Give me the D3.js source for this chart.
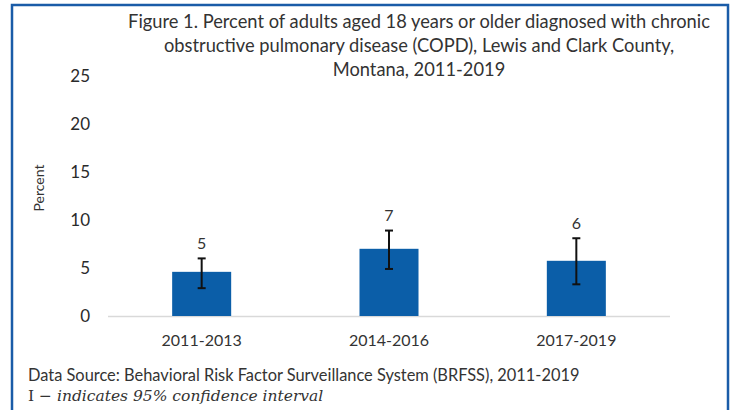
<!DOCTYPE html>
<html><head><meta charset="utf-8">
<script src="https://cdn.jsdelivr.net/npm/d3@7"></script>
<style>body{margin:0;background:#fff}svg{display:block}</style>
</head><body>
<svg id="c" width="732" height="410"></svg>
<script>
const titleLines = ["Figure 1. Percent of adults aged 18 years or older diagnosed with chronic",
  "obstructive pulmonary disease (COPD), Lewis and Clark County,",
  "Montana, 2011-2019"];
const categories = ["2011-2013", "2014-2016", "2017-2019"];
const values = [4.6, 7.0, 5.75];
const lower = [2.9, 4.9, 3.3];
const upper = [6.0, 8.9, 8.1];
const valueLabels = ["5", "7", "6"];
const yTicks = [0, 5, 10, 15, 20, 25];
const yLabel = "Percent";
const sourceText = "Data Source: Behavioral Risk Factor Surveillance System (BRFSS), 2011-2019";

const svg = d3.select("#c");
const font = "Lato, 'Open Sans', sans-serif";
const txt = "#333";

// frame
svg.append("rect").attr("x",12).attr("y",5).attr("width",716).attr("height",420)
  .attr("fill","#fff").attr("stroke","#1a5ca8").attr("stroke-width",2.5);

const x = d3.scaleBand().domain(categories).range([108, 670]);
const y = d3.scaleLinear().domain([0, 25]).range([316, 76]);
const bw = x.bandwidth() * 0.315;

// title
svg.append("g").selectAll("text").data(titleLines).join("text")
  .attr("x", 419).attr("y", (d,i) => 28 + i*24)
  .attr("text-anchor","middle").attr("font-family",font).attr("font-size",18.3)
  .attr("fill",txt).text(d => d);

// y tick labels
svg.append("g").selectAll("text").data(yTicks).join("text")
  .attr("x", 90).attr("y", d => y(d)).attr("dy","0.35em")
  .attr("text-anchor","end").attr("font-family",font).attr("font-size",17)
  .attr("fill","#2a2a2a").text(d => d);

// y label
svg.append("text").attr("transform","translate(44,188) rotate(-90)")
  .attr("text-anchor","middle").attr("font-family",font).attr("font-size",14)
  .attr("fill",txt).text(yLabel);

// baseline
svg.append("line").attr("x1",108).attr("x2",670).attr("y1",y(0)+0.5).attr("y2",y(0)+0.5)
  .attr("stroke","#d9d9d9").attr("stroke-width",1.5);

// bars
const cx = (d) => x(d) + x.bandwidth()/2;
svg.append("g").selectAll("rect").data(categories).join("rect")
  .attr("x", d => cx(d) - bw/2).attr("width", bw)
  .attr("y", (d,i) => y(values[i])).attr("height", (d,i) => y(0) - y(values[i]))
  .attr("fill","#0b5ea8");

// error bars
const eg = svg.append("g").attr("stroke","#111").attr("stroke-width",2);
categories.forEach((c,i) => {
  const xc = cx(c);
  eg.append("line").attr("x1",xc).attr("x2",xc).attr("y1",y(upper[i])).attr("y2",y(lower[i]));
  eg.append("line").attr("x1",xc-4).attr("x2",xc+4).attr("y1",y(upper[i])).attr("y2",y(upper[i]));
  eg.append("line").attr("x1",xc-4).attr("x2",xc+4).attr("y1",y(lower[i])).attr("y2",y(lower[i]));
});

// value labels
svg.append("g").selectAll("text").data(categories).join("text")
  .attr("x", d => cx(d)).attr("y", (d,i) => y(upper[i]) - 15).attr("dy","0.35em")
  .attr("text-anchor","middle").attr("font-family",font).attr("font-size",16)
  .attr("fill",txt).text((d,i) => valueLabels[i]);

// category labels
svg.append("g").selectAll("text").data(categories).join("text")
  .attr("x", d => cx(d)).attr("y", 340).attr("dy","0.35em")
  .attr("text-anchor","middle").attr("font-family",font).attr("font-size",16)
  .attr("fill",txt).text(d => d);

// source
svg.append("text").attr("x",28).attr("y",375).attr("dy","0.35em")
  .attr("font-family",font).attr("font-size",16.4).attr("fill",txt).text(sourceText);

const note = svg.append("text").attr("x",28).attr("y",396).attr("dy","0.35em")
  .attr("font-family","'DejaVu Serif', 'Liberation Serif', serif").attr("font-size",15.5).attr("fill",txt);
note.append("tspan").text("I − ");
note.append("tspan").attr("font-style","italic").text("indicates 95% confidence interval");
</script>
</body></html>
